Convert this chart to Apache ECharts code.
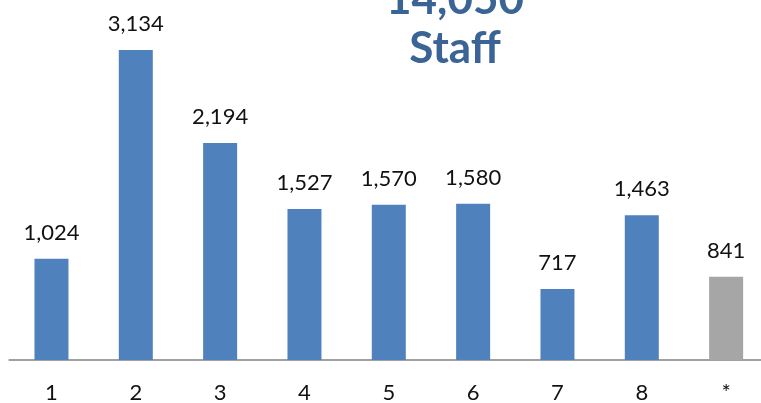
<!DOCTYPE html>
<html>
<head>
<meta charset="utf-8">
<script src="https://cdn.jsdelivr.net/npm/echarts@6/dist/echarts.min.js"></script>
<style>
  html, body { margin: 0; padding: 0; background: #fff; }
  #chart { width: 761px; height: 403px; }
</style>
</head>
<body>
<div id="chart"></div>
<script>
const categories = ['1', '2', '3', '4', '5', '6', '7', '8', '*'];
const staff = [1024, 3134, 2194, 1527, 1570, 1580, 717, 1463, 841];
const unknownIndex = 8;
const totalText = '14,050';

const blue = '#4f81bd';
const grey = '#a6a6a6';
const font = 'Lato, "Open Sans", sans-serif';

const chart = echarts.init(document.getElementById('chart'), null, { renderer: 'canvas' });

const option = {
  animation: false,
  grid: {
    left: 9.3, width: 759, top: 0, height: 360,
    containLabel: false, outerBoundsMode: 'none'
  },
  xAxis: {
    type: 'category',
    data: categories,
    axisLine: { lineStyle: { color: '#a0a0a0', width: 2 } },
    axisTick: { show: false },
    axisLabel: { color: '#111', fontSize: 22, fontFamily: font, margin: 22 }
  },
  yAxis: {
    type: 'value',
    min: 0,
    max: 3640,
    show: false,
    splitLine: { show: false }
  },
  graphic: [
    {
      type: 'text',
      x: 455, y: 0,
      style: {
        text: totalText, fill: '#3a6496', font: 'bold 44px ' + font,
        align: 'center', verticalAlign: 'middle'
      }
    },
    {
      type: 'text',
      x: 455, y: 49,
      style: {
        text: 'Staff', fill: '#3a6496', font: 'bold 44px ' + font,
        align: 'center', verticalAlign: 'middle'
      }
    }
  ],
  series: [{
    type: 'bar',
    barWidth: 34,
    data: staff.map((v, i) => ({
      value: v,
      itemStyle: { color: i === unknownIndex ? grey : blue }
    })),
    label: {
      show: true,
      position: 'top',
      distance: 15,
      color: '#111',
      fontSize: 22,
      fontFamily: font,
      formatter: p => p.value.toLocaleString('en-US')
    }
  }]
};

chart.setOption(option);
window.addEventListener('resize', chart.resize);
</script>
</body>
</html>
